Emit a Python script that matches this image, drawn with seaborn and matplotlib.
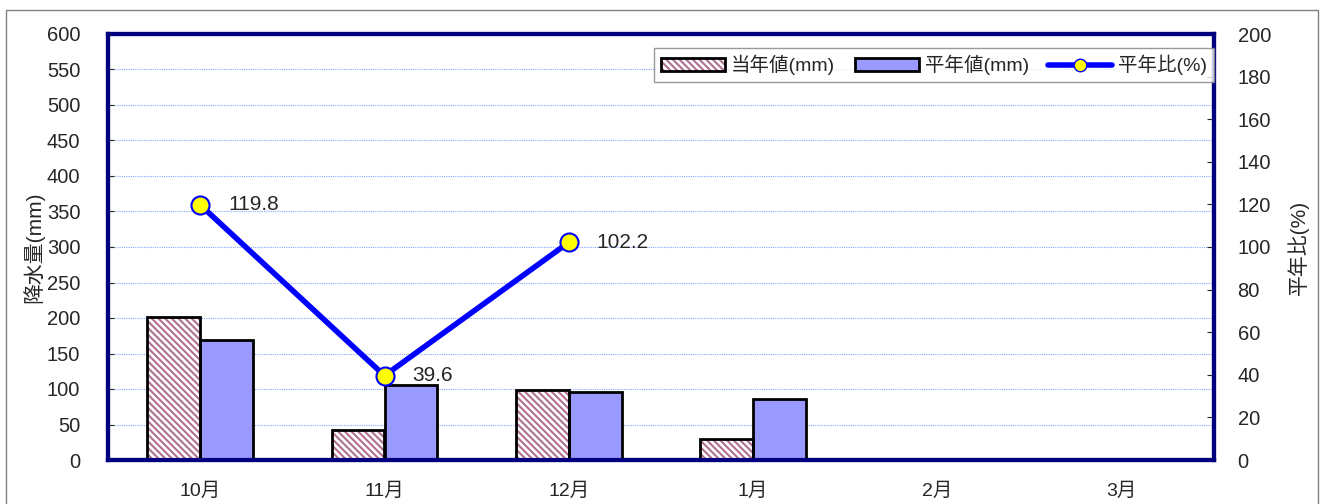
import matplotlib
matplotlib.use("Agg")
import matplotlib.pyplot as plt
import seaborn as sns
import pandas as pd
import numpy as np
from matplotlib.patches import Rectangle
from matplotlib.lines import Line2D
from matplotlib.colors import to_rgba
from matplotlib.legend_handler import HandlerTuple

months = ['10月', '11月', '12月', '1月', '2月', '3月']
this_year = [202, 42, 98.5, 29.5, np.nan, np.nan]
normal = [168.6, 106, 96.4, 86, np.nan, np.nan]
ratio = [119.8, 39.6, 102.2, np.nan, np.nan, np.nan]
ratio_labels = ['119.8', '39.6', '102.2']

sns.set_style('white')
plt.rcParams['font.family'] = ['Liberation Sans', 'Noto Sans CJK JP']
plt.rcParams['hatch.linewidth'] = 1.5

df = pd.DataFrame({
    'month': months * 2,
    'value': this_year + normal,
    'series': ['当年値(mm)'] * 6 + ['平年値(mm)'] * 6,
})

fig = plt.figure(figsize=(13.25, 5.04), dpi=100)
ax = fig.add_axes([108 / 1325, 1 - 460 / 504, 1106 / 1325, 426 / 504])

sns.barplot(data=df, x='month', y='value', hue='series', order=months,
            hue_order=['当年値(mm)', '平年値(mm)'],
            palette=['white', '#9999FF'], width=0.575, saturation=1,
            edgecolor='black', linewidth=2, ax=ax, legend=False, zorder=3)

# hatch the current-year (white) bars in maroon, then redraw a black outline on top
hatch = '\\\\\\\\\\'
for p in list(ax.patches):
    if p.get_facecolor() != to_rgba('white'):
        continue
    if np.isnan(p.get_height()) or p.get_height() == 0:
        continue
    p.set_hatch(hatch)
    p.set_edgecolor('#B07090')
    p.set_linewidth(0)
    ax.add_patch(Rectangle(p.get_xy(), p.get_width(), p.get_height(),
                           facecolor='none', edgecolor='black', linewidth=2, zorder=4))

ax.set_xlim(-0.5, 5.5)
ax.set_ylim(0, 600)
ax.set_yticks(range(0, 601, 50))
ax.set_xlabel('')
ax.set_ylabel('降水量(mm)', fontsize=15, labelpad=2)
ax.yaxis.grid(True, color='#88A8FF', linestyle=(0, (1, 1)), linewidth=0.8)
ax.set_axisbelow(True)
ax.tick_params(axis='y', labelsize=14.5, length=4, direction='in', pad=20)
ax.tick_params(axis='x', labelsize=14, length=0, pad=16)
ax.set_xticks(np.arange(-0.5, 6, 1), minor=True)
ax.tick_params(axis='x', which='minor', length=5, direction='in', color='gray')
for s in ax.spines.values():
    s.set_color('#00007F')
    s.set_linewidth(3)

ax2 = ax.twinx()
x = np.arange(len(months))
ax2.plot(x, ratio, color='#0000FF', linewidth=4, marker='o', markersize=13,
         markerfacecolor='#FFFF00', markeredgecolor='#0000FF', markeredgewidth=1.5, zorder=5)
for i, lab in enumerate(ratio_labels):
    ax2.annotate(lab, (x[i], ratio[i]), xytext=(20, 0), textcoords='offset points',
                 va='center', ha='left', fontsize=15)
ax2.set_ylim(0, 200)
ax2.set_yticks(range(0, 201, 20))
ax2.set_ylabel('平年比(%)', fontsize=15, rotation=90, labelpad=12)
ax2.tick_params(axis='y', labelsize=14.5, length=5, direction='in', pad=17)
for s in ax2.spines.values():
    s.set_color('#00007F')
    s.set_linewidth(3)

h_this = (Rectangle((0, 0), 1, 1, facecolor='white', edgecolor='#B07090', hatch=hatch, linewidth=0),
          Rectangle((0, 0), 1, 1, facecolor='none', edgecolor='black', linewidth=2))
h_norm = Rectangle((0, 0), 1, 1, facecolor='#9999FF', edgecolor='black', linewidth=2)
h_ratio = Line2D([], [], color='#0000FF', linewidth=4, marker='o', markersize=9,
                 markerfacecolor='#FFFF00', markeredgecolor='#0000FF')
leg = ax2.legend([h_this, h_norm, h_ratio], ['当年値(mm)', '平年値(mm)', '平年比(%)'],
                 handler_map={tuple: HandlerTuple(ndivide=1, pad=0)},
                 loc='upper right', bbox_to_anchor=(1.0, 0.967), ncol=3, fontsize=14,
                 frameon=True, fancybox=False, edgecolor='gray', handlelength=3.3,
                 handleheight=0.6, handletextpad=0.3, columnspacing=1.0,
                 borderpad=0.35, borderaxespad=0)
leg.get_frame().set_linewidth(1)

fig.patches.append(Rectangle((6 / 1325, -0.1), 1312 / 1325, 1 - 10 / 504 + 0.1,
                             transform=fig.transFigure, fill=False, edgecolor='gray', linewidth=1))

fig.savefig('out.png', dpi=100)
